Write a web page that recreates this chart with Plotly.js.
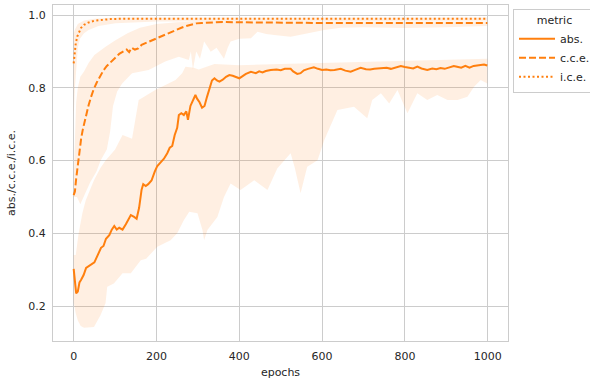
<!DOCTYPE html>
<html>
<head>
<meta charset="utf-8">
<script src="https://cdn.plot.ly/plotly-3.0.1.min.js"></script>
<style>html,body{margin:0;padding:0;background:#fff;}#chart{width:590px;height:381px;}</style>
</head>
<body>
<div id="chart"></div>
<script>
// ---- abs. mean ----
const absX = [0,3,6,10,14,18,24,30,36,44,50,58,66,72,78,86,92,98,104,110,118,126,132,138,146,152,158,164,168,174,180,188,196,202,210,218,226,232,238,244,250,254,260,266,272,276,282,288,294,298,304,310,316,322,328,334,340,346,352,360,368,376,384,395,400,408,416,428,440,448,456,464,476,490,500,510,524,530,540,548,556,566,580,590,600,610,620,630,645,656,669,680,693,706,716,726,736,746,756,766,776,790,800,810,820,830,840,854,866,876,886,896,906,918,926,936,946,956,966,976,991,999];
const absY = [0.302,0.26,0.235,0.24,0.265,0.272,0.285,0.305,0.31,0.315,0.32,0.34,0.36,0.365,0.385,0.395,0.41,0.42,0.41,0.415,0.41,0.425,0.44,0.45,0.445,0.44,0.47,0.52,0.535,0.53,0.535,0.545,0.57,0.585,0.595,0.605,0.62,0.635,0.64,0.67,0.69,0.725,0.73,0.725,0.735,0.712,0.75,0.765,0.78,0.77,0.76,0.745,0.75,0.775,0.80,0.82,0.826,0.82,0.817,0.822,0.83,0.835,0.833,0.828,0.826,0.832,0.838,0.844,0.84,0.845,0.842,0.846,0.849,0.85,0.848,0.852,0.852,0.845,0.838,0.84,0.848,0.852,0.856,0.852,0.849,0.85,0.848,0.849,0.852,0.847,0.844,0.849,0.855,0.851,0.85,0.852,0.853,0.856,0.855,0.852,0.856,0.86,0.857,0.856,0.853,0.858,0.853,0.849,0.853,0.851,0.854,0.852,0.856,0.86,0.858,0.855,0.86,0.855,0.86,0.861,0.864,0.861];
// ---- c.c.e. mean ----
const cceX = [0,3,6,10,14,18,22,26,30,36,42,48,56,64,72,80,90,100,110,120,128,134,140,148,156,164,172,180,190,200,212,224,236,248,260,272,284,296,310,330,360,400,450,500,550,600,650,700,750,800,850,900,950,999];
const cceY = [0.505,0.515,0.55,0.59,0.63,0.66,0.685,0.705,0.725,0.752,0.775,0.795,0.815,0.832,0.848,0.86,0.872,0.882,0.893,0.9,0.905,0.898,0.91,0.905,0.908,0.918,0.922,0.927,0.932,0.936,0.943,0.948,0.954,0.959,0.965,0.97,0.974,0.977,0.978,0.979,0.981,0.98,0.979,0.979,0.978,0.978,0.978,0.978,0.978,0.978,0.978,0.978,0.978,0.978];
// ---- i.c.e. mean ----
const iceX = [0,2,5,9,13,18,25,35,49,70,90,130,200,400,600,800,999];
const iceY = [0.867,0.9,0.922,0.942,0.954,0.965,0.973,0.979,0.984,0.987,0.989,0.99,0.99,0.99,0.99,0.99,0.99];

// ---- bands (lower / upper edges) ----
const absLoX = [0,5,10,17,25,49,65,77,81,97,118,138,162,175,202,234,250,266,279,299,311,315,323,347,363,379,403,436,468,492,524,534,548,564,589,605,637,677,709,721,742,762,782,806,830,854,878,903,927,951,967,983,999];
const absLoY = [0.21,0.18,0.16,0.145,0.14,0.142,0.175,0.208,0.253,0.262,0.29,0.29,0.326,0.33,0.363,0.381,0.40,0.436,0.459,0.455,0.409,0.381,0.409,0.445,0.50,0.537,0.519,0.546,0.519,0.579,0.620,0.58,0.510,0.583,0.601,0.656,0.739,0.748,0.716,0.766,0.785,0.757,0.794,0.730,0.785,0.766,0.780,0.766,0.766,0.775,0.803,0.821,0.812];
const absHiX = [0,5,12,21,29,49,65,77,100,118,141,150,157,197,246,262,270,290,302,340,400,500,600,700,800,900,999];
const absHiY = [0.34,0.34,0.40,0.455,0.49,0.546,0.58,0.60,0.63,0.67,0.66,0.72,0.766,0.794,0.821,0.84,0.858,0.855,0.85,0.865,0.862,0.865,0.868,0.87,0.875,0.876,0.88];
const cceLoX = [0,8,16,24,40,55,65,80,88,95,105,117,141,181,221,254,278,283,288,296,305,315,325,331,345,363,372,379,400,428,444,465,484,524,564,605,645,700,800,900,999];
const cceLoY = [0.50,0.50,0.48,0.50,0.54,0.57,0.60,0.63,0.68,0.75,0.79,0.812,0.84,0.849,0.872,0.885,0.876,0.90,0.85,0.90,0.88,0.927,0.91,0.899,0.91,0.88,0.91,0.927,0.935,0.936,0.954,0.948,0.945,0.94,0.95,0.959,0.965,0.966,0.964,0.966,0.97];
const cceHiX = [0,3,6,10,16,25,36,50,77,100,130,160,200,250,300,999];
const cceHiY = [0.55,0.68,0.76,0.80,0.83,0.845,0.868,0.89,0.913,0.93,0.95,0.965,0.975,0.98,0.982,0.982];
const iceLoX = [0,3,6,10,15,25,36,60,101,200,999];
const iceLoY = [0.72,0.80,0.86,0.91,0.935,0.95,0.959,0.97,0.977,0.982,0.984];
const iceHiX = [0,3,10,25,50,100,999];
const iceHiY = [0.95,0.96,0.975,0.985,0.99,0.993,0.993];

const names = ['abs.','c.c.e.','i.c.e.'];
const C = '#ff7f0e';
const FILL = 'rgba(255,127,14,0.12)';

function band(hx, hy, lx, ly) {
  return {
    x: hx.concat(lx.slice().reverse()),
    y: hy.concat(ly.slice().reverse()),
    type: 'scatter', mode: 'lines', fill: 'toself', fillcolor: FILL,
    line: {width: 0, color: 'rgba(0,0,0,0)'}, showlegend: false, hoverinfo: 'skip'
  };
}

const traces = [
  band(absHiX, absHiY, absLoX, absLoY),
  band(cceHiX, cceHiY, cceLoX, cceLoY),
  band(iceHiX, iceHiY, iceLoX, iceLoY),
  {x: absX, y: absY, name: names[0], type: 'scatter', mode: 'lines', line: {color: C, width: 2}},
  {x: cceX, y: cceY, name: names[1], type: 'scatter', mode: 'lines', line: {color: C, width: 2, dash: '7px,3px'}},
  {x: iceX, y: iceY, name: names[2], type: 'scatter', mode: 'lines', line: {color: C, width: 2, dash: '2px,2.5px'}}
];

const FONT = 'DejaVu Sans, sans-serif';
const TXT = '#262626';
const layout = {
  width: 590, height: 381,
  margin: {l: 53, r: 82, t: 5, b: 40, autoexpand: false},
  paper_bgcolor: '#fff', plot_bgcolor: '#fff',
  font: {family: FONT, size: 11, color: TXT},
  xaxis: {
    range: [-49.95, 1048.95], tickvals: [0,200,400,600,800,1000],
    ticktext: ['0','200','400','600','800','1000'],
    showgrid: true, gridcolor: '#cccccc', gridwidth: 1, zeroline: false,
    showline: true, linecolor: '#cccccc', linewidth: 1, mirror: true,
    ticks: 'outside', ticklen: 5, tickcolor: 'rgba(0,0,0,0)', automargin: false,
    tickfont: {size: 11, color: TXT},
    title: {text: 'epochs', font: {size: 11, color: TXT}, standoff: 6}
  },
  yaxis: {
    range: [0.1038, 1.0275], tickvals: [0.2,0.4,0.6,0.8,1.0],
    ticktext: ['0.2','0.4','0.6','0.8','1.0'],
    showgrid: true, gridcolor: '#cccccc', gridwidth: 1, zeroline: false,
    showline: true, linecolor: '#cccccc', linewidth: 1, mirror: true,
    ticks: 'outside', ticklen: 4, tickcolor: 'rgba(0,0,0,0)', automargin: false,
    tickfont: {size: 11, color: TXT},
    title: {text: 'abs./c.c.e./i.c.e.', font: {size: 11, color: TXT}, standoff: 10}
  },
  legend: {
    x: 1.011, xanchor: 'left', y: 0.988, yanchor: 'top',
    bordercolor: '#cccccc', borderwidth: 1, bgcolor: '#fff',
    font: {size: 11, color: TXT},
    title: {text: 'metric', side: 'top center', font: {size: 11, color: TXT}},
    itemwidth: 36, tracegroupgap: 0
  },
  showlegend: true
};

Plotly.newPlot('chart', traces, layout, {displayModeBar: false, staticPlot: true});
</script>
</body>
</html>
